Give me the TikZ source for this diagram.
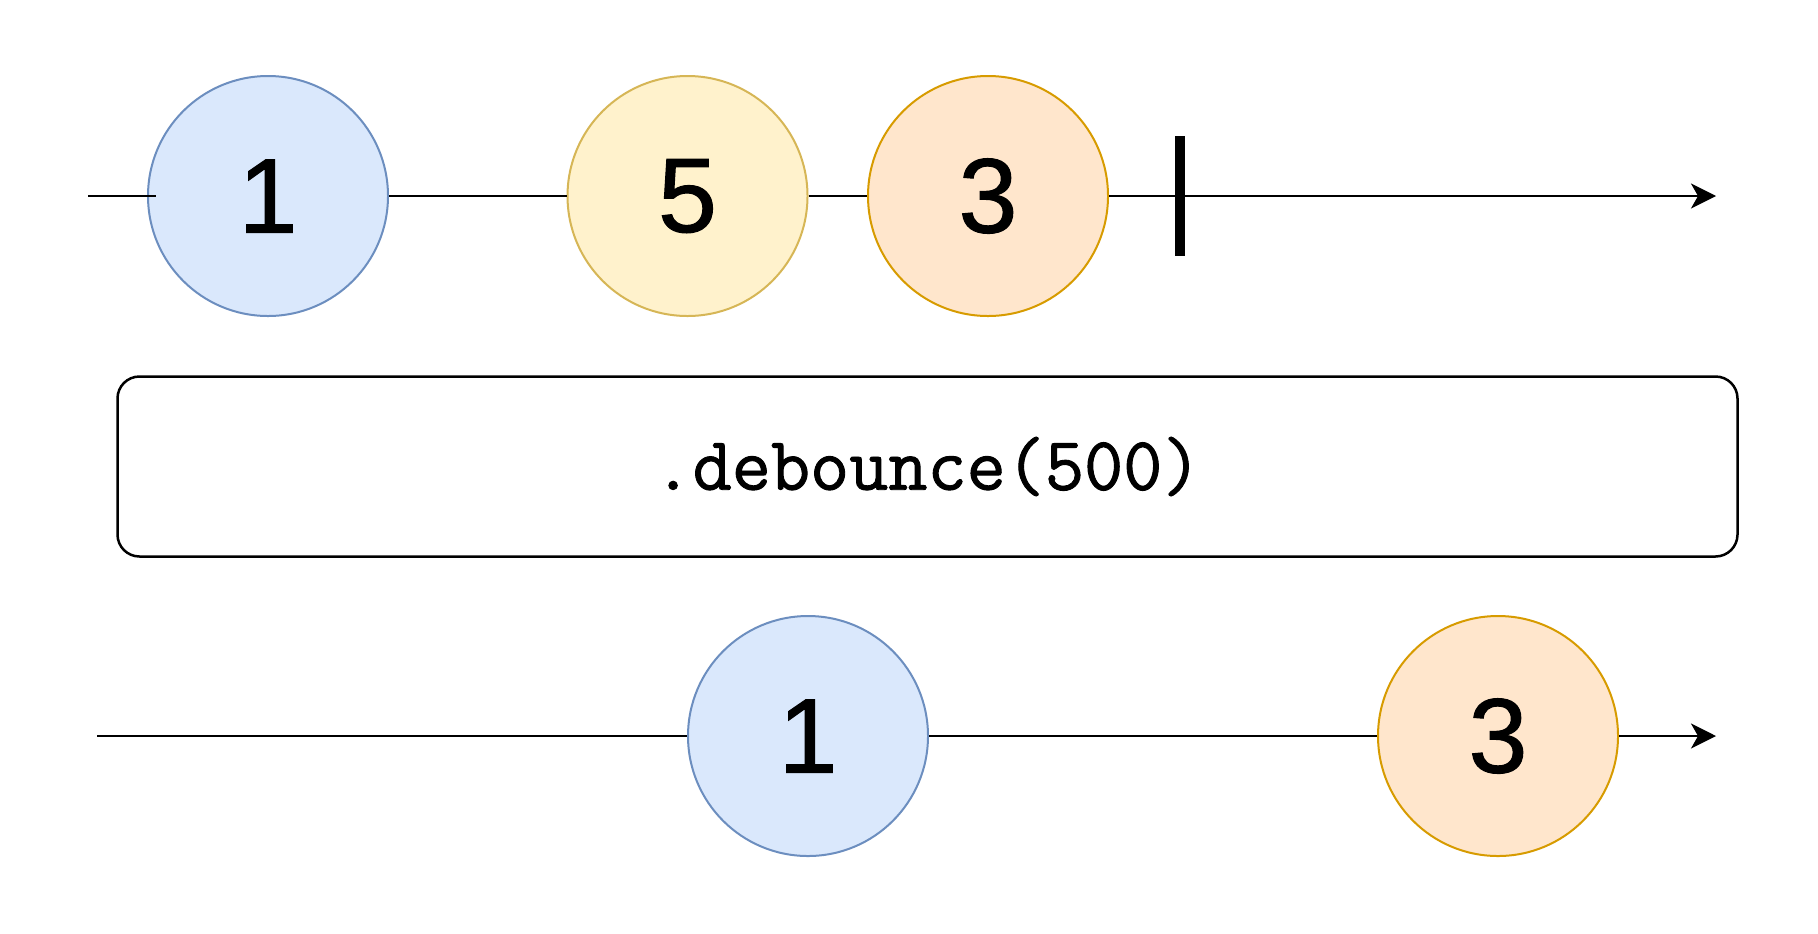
\documentclass[tikz,border=0pt]{standalone}
\usepackage{fontspec}
\setmainfont{Liberation Sans}
\newfontfamily\digitfont[FakeBold=1]{Liberation Sans}
\newfontfamily\opfont[FakeBold=1.2]{Latin Modern Mono}
\usetikzlibrary{arrows.meta}
\definecolor{bluefill}{HTML}{DAE8FC}
\definecolor{blueline}{HTML}{6C8EBF}
\definecolor{yellowfill}{HTML}{FFF2CC}
\definecolor{yellowline}{HTML}{D6B656}
\definecolor{orangefill}{HTML}{FFE6CC}
\definecolor{orangeline}{HTML}{D79B00}

\begin{document}
\begin{tikzpicture}[x=0.5pt,y=-0.5pt,
  ev/.style={circle,draw,line width=1pt,minimum size=120pt,inner sep=0pt,font=\digitfont\fontsize{53}{60}\selectfont},
  blueev/.style={ev,draw=blueline,fill=bluefill},
  yellowev/.style={ev,draw=yellowline,fill=yellowfill},
  orangeev/.style={ev,draw=orangeline,fill=orangefill},
  axis/.style={line width=1.35pt},
  tip/.style={-{Stealth[length=12.5pt,width=12.5pt,inset=3.5pt]}},
  op/.style={draw,line width=1.25pt,rounded corners=11pt,minimum width=810pt,minimum height=90pt,inner sep=0pt,font=\opfont\fontsize{38}{42}\selectfont}]
\useasboundingbox (0,0) rectangle (1818,933);
% input stream
\coordinate (s1) at (88,196);
\coordinate (e1) at (1716,196);
\coordinate (done) at (1180,196);
\node[blueev] (t1) at (268,196) {1};
\node[yellowev] (t5) at (687.5,196) {5};
\node[orangeev] (t3) at (988,196) {3};
\draw[axis] (s1) -- ([xshift=4.5pt]t1.west);
\draw[axis] (t1) -- (t5);
\draw[axis] (t5) -- (t3);
\draw[axis,tip] (t3) -- (e1);
\draw[line width=5pt] ([yshift=30pt]done) -- ([yshift=-30pt]done);
% operator
\node[op] (deb) at (927.5,466.5) {.debounce(500)};
% output stream
\coordinate (s2) at (97,736);
\coordinate (e2) at (1716,736);
\node[blueev] (o1) at (808,736) {1};
\node[orangeev] (o3) at (1498,736) {3};
\draw[axis] (s2) -- (o1);
\draw[axis] (o1) -- (o3);
\draw[axis,tip] (o3) -- (e2);
\end{tikzpicture}
\end{document}
